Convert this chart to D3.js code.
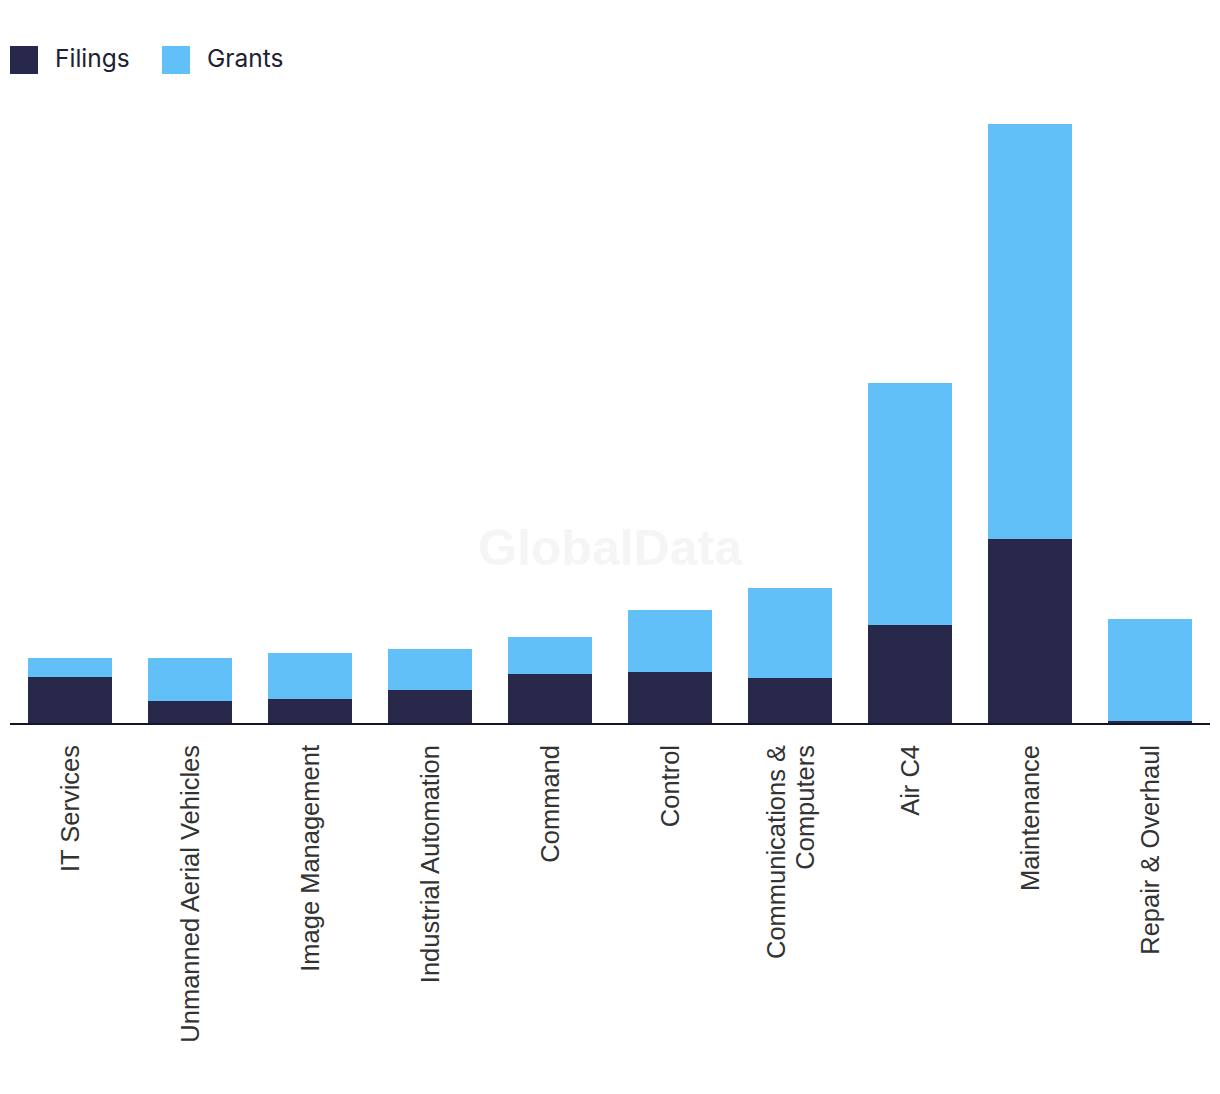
<!DOCTYPE html>
<html>
<head>
<meta charset="utf-8">
<script src="https://cdn.jsdelivr.net/npm/d3@7"></script>
<style>
  html, body { margin: 0; padding: 0; background: #fff; }
  svg { display: block; }
</style>
</head>
<body>
<div id="chart"></div>
<script>
const categories = ["IT Services", "Unmanned Aerial Vehicles", "Image Management", "Industrial Automation", "Command", "Control", "Communications & Computers", "Air C4", "Maintenance", "Repair & Overhaul"];
const labelLines = [["IT Services"], ["Unmanned Aerial Vehicles"], ["Image Management"], ["Industrial Automation"], ["Command"], ["Control"], ["Communications &", "Computers"], ["Air C4"], ["Maintenance"], ["Repair & Overhaul"]];
const filings = [23, 11, 12, 16.5, 24.5, 25.5, 22.5, 49, 92, 1];
const grants  = [9.5, 21.5, 23, 20.5, 18.5, 31, 45, 121, 207.5, 51];
const seriesNames = ["Filings", "Grants"];
const seriesColors = ["#27284a", "#62c0f9"];

const W = 1220, H = 1094;
const baseY = 723;

const svg = d3.select("#chart").append("svg").attr("width", W).attr("height", H);

// watermark
svg.append("text")
  .attr("x", 610).attr("y", 565)
  .attr("text-anchor", "middle")
  .attr("font-family", "Liberation Sans, Arial, sans-serif")
  .attr("font-weight", "bold")
  .attr("font-size", 50)
  .attr("fill", "#f5f5f5")
  .text("GlobalData");

const rows = categories.map((c, i) => ({ category: c, Filings: filings[i], Grants: grants[i] }));
const stacked = d3.stack().keys(seriesNames)(rows);

const x = d3.scaleBand().domain(categories).range([10, 1210]).paddingInner(0.3).paddingOuter(0.15);
const maxTotal = d3.max(rows, d => d.Filings + d.Grants);
const y = d3.scaleLinear().domain([0, maxTotal]).range([baseY, 124]);

svg.append("g").selectAll("g").data(stacked).join("g")
  .attr("fill", (d, i) => seriesColors[i])
  .selectAll("rect").data(d => d).join("rect")
  .attr("x", d => x(d.data.category))
  .attr("width", x.bandwidth())
  .attr("y", d => y(d[1]))
  .attr("height", d => y(d[0]) - y(d[1]));

// baseline axis
const axis = svg.append("g").attr("transform", `translate(0,${baseY + 1})`)
  .call(d3.axisBottom(x).tickSize(0).tickFormat(""));
axis.select(".domain").attr("stroke", "#15152a").attr("stroke-width", 2).attr("d", "M10,0H1210");

// category labels
const lab = svg.append("g");
categories.forEach((c, i) => {
  const cx = x(c) + x.bandwidth() / 2;
  const lines = labelLines[i];
  const lh = 29;
  const t = lab.append("text")
    .attr("transform", `translate(${cx},745) rotate(-90)`)
    .attr("text-anchor", "end")
    .attr("font-family", "Liberation Sans, Arial, sans-serif")
    .attr("font-size", 25.5)
    .attr("fill", "#333");
  lines.forEach((ln, j) => {
    const off = (j - (lines.length - 1) / 2) * lh;
    t.append("tspan").attr("x", 0).attr("y", off).attr("dy", "0.36em").text(ln);
  });
});

// legend
const leg = svg.append("g");
const legX = [10, 162];
seriesNames.forEach((s, i) => {
  leg.append("rect").attr("x", legX[i]).attr("y", 46).attr("width", 28).attr("height", 28).attr("fill", seriesColors[i]);
  leg.append("text").attr("x", legX[i] + 45).attr("y", 67)
    .attr("font-family", "Inter, Lato, sans-serif")
    .attr("font-size", 24.5)
    .attr("fill", "#1f2033")
    .text(s);
});
</script>
</body>
</html>
